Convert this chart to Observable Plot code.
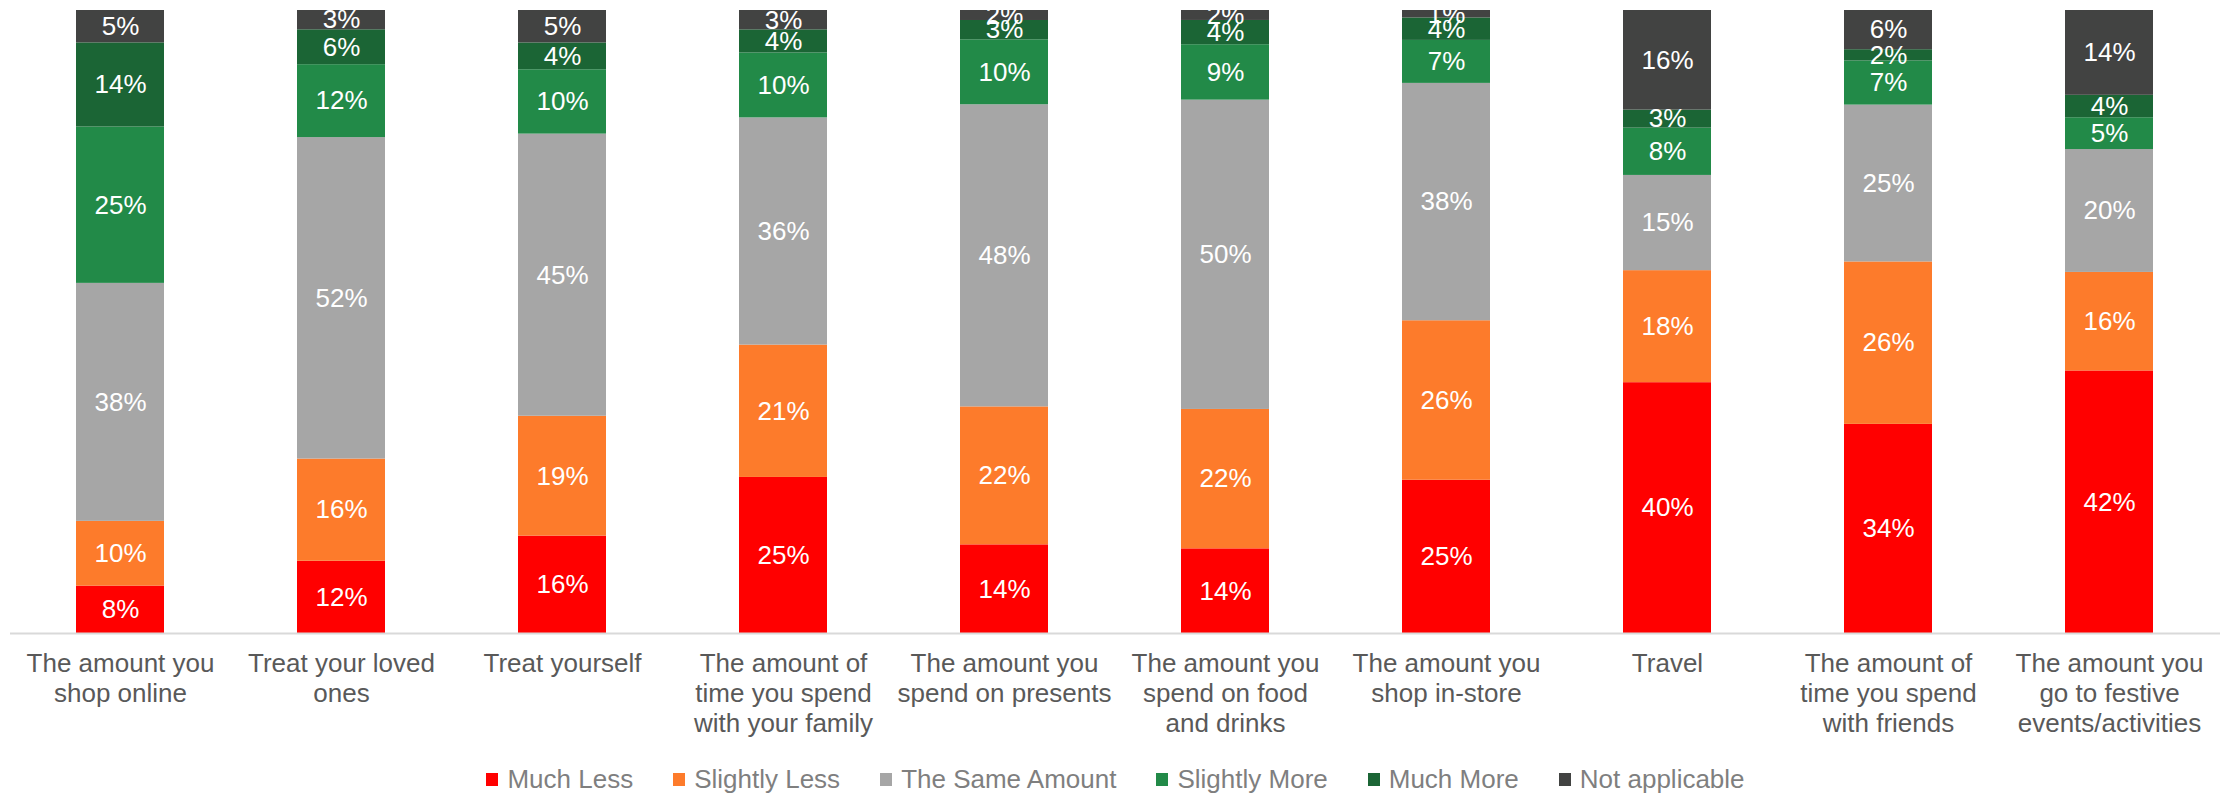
<!DOCTYPE html>
<html><head><meta charset="utf-8">
<script src="https://cdn.jsdelivr.net/npm/d3@7"></script>
<script src="https://cdn.jsdelivr.net/npm/@observablehq/plot@0.6"></script>
<style>
body{margin:0;background:#fff;font-family:"Liberation Sans",Arial,sans-serif;}
#legend{display:flex;justify-content:center;margin-top:19px;line-height:30px;font-size:26px;color:#7f7f7f}
.item{display:flex;align-items:center;margin:0 20px}
.sw{width:12px;height:13px;margin-right:9px}
</style></head><body><div id="chart"></div><div id="legend"></div>
<script>
const categories = [
  "The amount you\nshop online",
  "Treat your loved\nones",
  "Treat yourself",
  "The amount of\ntime you spend\nwith your family",
  "The amount you\nspend on presents",
  "The amount you\nspend on food\nand drinks",
  "The amount you\nshop in-store",
  "Travel",
  "The amount of\ntime you spend\nwith friends",
  "The amount you\ngo to festive\nevents/activities"
];
const series = ["Much Less","Slightly Less","The Same Amount","Slightly More","Much More","Not applicable"];
const colors = ["#ff0000","#fd7b2b","#a6a6a6","#228a48","#1b6535","#424342"];
const muchLess      = [7.6, 11.6, 15.6, 25.0, 14.2, 13.6, 24.6, 40.3, 33.6, 42.1];
const slightlyLess  = [10.4, 16.4, 19.2, 21.2, 22.1, 22.4, 25.6, 18.0, 26.1, 15.8];
const sameAmount    = [38.2, 51.6, 45.2, 36.4, 48.4, 49.7, 38.1, 15.3, 25.2, 19.7];
const slightlyMore  = [25.1, 11.7, 10.3, 10.4, 10.4, 8.9, 6.9, 7.6, 7.1, 5.1];
const muchMore      = [13.5, 5.6, 4.3, 3.7, 3.1, 3.9, 3.6, 2.9, 1.8, 3.6];
const notApplicable = [5.2, 3.1, 5.2, 3.1, 1.6, 1.6, 1.2, 16.0, 6.3, 13.6];

const seriesValues = [muchLess, slightlyLess, sameAmount, slightlyMore, muchMore, notApplicable];
const data = [];
categories.forEach((c, i) => {
  series.forEach((s, j) => data.push({category: c, series: s, value: seriesValues[j][i]}));
});

const chart = Plot.plot({
  width: 2231,
  height: 745,
  marginTop: 10,
  marginBottom: 112,
  marginLeft: 10,
  marginRight: 11,
  style: {fontFamily: "'Liberation Sans', Arial, sans-serif", fontSize: "26px", background: "#fff"},
  x: {domain: categories, paddingInner: 0.6, paddingOuter: 0.3, label: null},
  y: {domain: [0, 1], axis: null},
  color: {domain: series, range: colors},
  marks: [
    Plot.barY(data, {x: "category", y: "value", fill: "series", z: "series", offset: "normalize"}),
    Plot.ruleY([0], {stroke: "#d9d9d9", strokeWidth: 2}),
    Plot.text(data, Plot.stackY({x: "category", y: "value", z: "series", offset: "normalize",
      text: d => Math.round(d.value) + "%", fill: "white", fontSize: 26})),
    Plot.axisX({tickSize: 0, tickPadding: 17, fontSize: 26, lineHeight: 1.15, fill: "#595959", label: null})
  ]
});
document.getElementById("chart").appendChild(chart);

const legend = document.getElementById("legend");
series.forEach((s, i) => {
  const item = document.createElement("div");
  item.className = "item";
  const sw = document.createElement("span");
  sw.className = "sw";
  sw.style.background = colors[i];
  const t = document.createElement("span");
  t.textContent = s;
  item.appendChild(sw); item.appendChild(t);
  legend.appendChild(item);
});
</script></body></html>
